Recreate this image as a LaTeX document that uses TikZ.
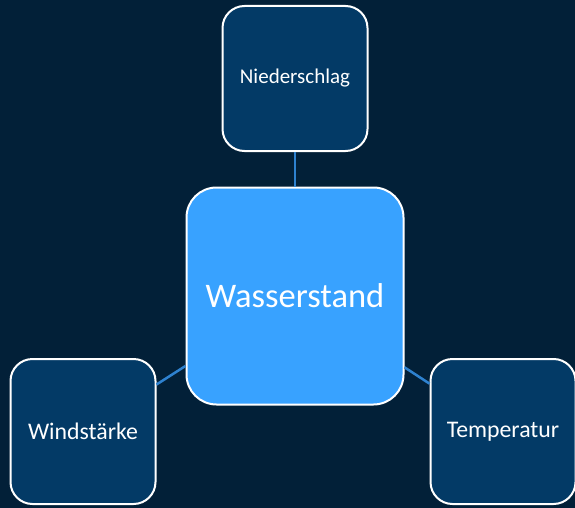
\documentclass[tikz,border=0pt]{standalone}
\usepackage{fontspec}
\setmainfont{Carlito}
\usetikzlibrary{positioning}
\definecolor{bgnavy}{HTML}{022038}
\definecolor{boxdark}{HTML}{033A66}
\definecolor{boxlight}{HTML}{38A2FF}
\definecolor{linkblue}{HTML}{2E82D0}
\begin{document}
\begin{tikzpicture}[x=1pt,y=-1pt,
    factor/.style={draw=white, line width=2pt, fill=boxdark, text=white,
      rounded corners=22pt, minimum width=145pt, minimum height=145pt,
      inner sep=0pt, font=\fontsize{23.8}{27}\selectfont},
    target/.style={draw=white, line width=2pt, fill=boxlight, text=white,
      rounded corners=30pt, minimum width=217pt, minimum height=217pt,
      inner sep=0pt, font=\fontsize{34.5}{38}\selectfont},
    link/.style={draw=linkblue, line width=2.5pt}]
           \fill[bgnavy] (0,0) rectangle (575,508);
           \useasboundingbox (0,0) rectangle (575,508);
           \node [target] (wasser) at (295,296) {Wasserstand};
           \node [factor, font=\fontsize{21}{24}\selectfont] (nieder) at (295,78.5) {Niederschlag};
           \node [factor] (wind) at (83,431.5) {Windstärke};
           \node [factor] (temp) at (503,431.5) {Temperatur};
           \draw [link] (nieder) -- (wasser);
           \draw [link] (wind) -- (wasser);
           \draw [link] (temp) -- (wasser);
      \end{tikzpicture}
\end{document}
